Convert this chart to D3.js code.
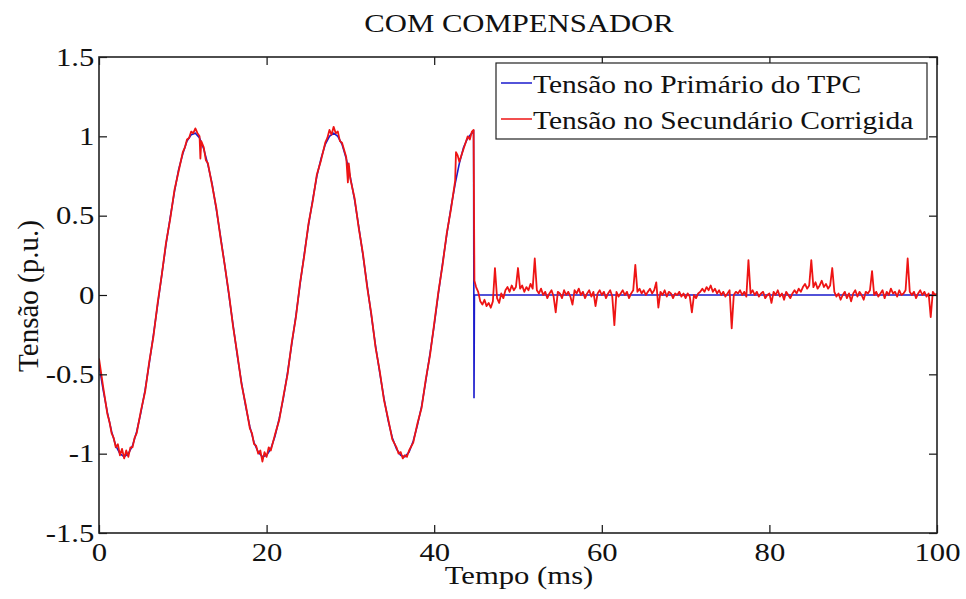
<!DOCTYPE html>
<html>
<head>
<meta charset="utf-8">
<script src="https://d3js.org/d3.v7.min.js"></script>
<style>
  body { margin: 0; background: #fff; }
  svg text { font-family: "Liberation Serif", "Times New Roman", serif !important; fill: #111; }
</style>
</head>
<body>
<div id="chart"></div>
<script>
// tick values
var xTicks = [0, 20, 40, 60, 80, 100];
var yTicks = [-1.5, -1, -0.5, 0, 0.5, 1, 1.5];

// primary voltage [ms, p.u.]
var primario = [
  [0,-0.44],[0.5,-0.60],[1,-0.74],[1.5,-0.86],[2,-0.95],[2.5,-1.00],[3,-1.02],[3.5,-1.00],[4,-0.95],[4.5,-0.86],
  [5,-0.74],[5.5,-0.60],[6,-0.43],[6.5,-0.25],[7,-0.06],[7.5,0.13],[8,0.32],[8.5,0.49],[9,0.65],[9.5,0.79],
  [10,0.89],[10.5,0.97],[11,1.01],[11.5,1.02],[12,0.99],[12.5,0.92],[13,0.82],[13.5,0.70],[14,0.54],[14.5,0.37],
  [15,0.19],[15.5,0.00],[16,-0.19],[16.5,-0.38],[17,-0.55],[17.5,-0.70],[18,-0.83],[18.5,-0.93],[19,-0.99],[19.5,-1.02],
  [20,-1.01],[20.5,-0.97],[21,-0.89],[21.5,-0.78],[22,-0.65],[22.5,-0.49],[23,-0.31],[23.5,-0.13],[24,0.07],[24.5,0.26],
  [25,0.44],[25.5,0.60],[26,0.75],[26.5,0.86],[27,0.95],[27.5,1.00],[28,1.02],[28.5,1.00],[29,0.95],[29.5,0.86],
  [30,0.74],[30.5,0.60],[31,0.43],[31.5,0.25],[32,0.06],[32.5,-0.13],[33,-0.32],[33.5,-0.49],[34,-0.65],[34.5,-0.79],
  [35,-0.90],[35.5,-0.97],[36,-1.01],[36.5,-1.02],[37,-0.99],[37.5,-0.92],[38,-0.82],[38.5,-0.70],[39,-0.54],[39.5,-0.37],
  [40,-0.19],[40.5,0.01],[41,0.20],[41.5,0.38],[42,0.55],[42.5,0.70],[43,0.83],[43.5,0.93],[44,0.99],[44.5,1.02],
  [44.7,1.03],[44.75,-0.65],[44.8,0.00],[100,0.00]
];

// corrected secondary voltage, sine part [ms, p.u.]
var secundario = [
  [0,-0.40],[0.5,-0.58],[1,-0.75],[1.25,-0.80],[1.5,-0.87],[1.75,-0.90],[2,-0.96],[2.25,-0.94],[2.5,-1.01],[2.75,-0.97],
  [3,-1.03],[3.25,-0.98],[3.5,-1.02],[3.75,-0.96],[4,-0.96],[4.25,-0.90],[4.5,-0.87],[5,-0.73],[5.5,-0.61],[6,-0.42],
  [6.5,-0.26],[7,-0.05],[7.5,0.13],[8,0.33],[8.5,0.48],[9,0.66],[9.5,0.78],[10,0.90],[10.25,0.93],[10.5,0.98],
  [10.75,0.99],[11,1.03],[11.25,1.02],[11.5,1.05],[11.75,1.02],[12,1.00],[12.1,0.86],[12.2,0.97],[12.5,0.93],[12.75,0.85],
  [13,0.83],[13.5,0.69],[14,0.55],[14.5,0.36],[15,0.19],[15.5,0.01],[16,-0.20],[16.5,-0.37],[17,-0.56],[17.5,-0.69],
  [18,-0.84],[18.25,-0.87],[18.5,-0.94],[18.75,-0.95],[19,-1.00],[19.25,-0.98],[19.5,-1.05],[19.75,-0.99],[20,-1.02],[20.25,-0.96],
  [20.5,-0.98],[21,-0.88],[21.5,-0.79],[22,-0.64],[22.5,-0.50],[23,-0.30],[23.5,-0.14],[24,0.08],[24.5,0.25],[25,0.45],
  [25.5,0.59],[26,0.76],[26.5,0.85],[27,0.96],[27.25,0.99],[27.5,1.04],[27.75,1.01],[28,1.06],[28.25,1.02],[28.5,1.03],
  [28.75,0.97],[29,0.96],[29.5,0.87],[29.7,0.71],[29.8,0.83],[30,0.73],[30.5,0.61],[31,0.42],[31.5,0.26],[32,0.05],
  [32.5,-0.12],[33,-0.33],[33.5,-0.48],[34,-0.66],[34.5,-0.78],[35,-0.91],[35.5,-0.96],[35.75,-1.00],[36,-0.99],[36.25,-1.03],
  [36.5,-1.01],[36.75,-1.02],[37,-0.98],[37.5,-0.93],[38,-0.81],[38.5,-0.71],[39,-0.53],[39.5,-0.38],[40,-0.18],[40.5,0.02],
  [41,0.19],[41.5,0.39],[42,0.54],[42.5,0.72],[42.6,0.90],[42.8,0.88],[43,0.84],[43.5,0.92],[44,1.00],[44.25,0.98],
  [44.5,1.03],[44.7,1.04],[44.8,0.09]
];

// corrected secondary after the fault, sampled every 0.25 ms from 45 ms
var ruidoInicio = 45, ruidoPasso = 0.25;
var ruido = [
  0.05,0.02,-0.04,-0.06, -0.03,-0.07,-0.05,-0.08, -0.04,0.17,-0.02,-0.05, 0.01,-0.02,0.03,0.05,
  0.02,0.06,0.03,0.05, 0.17,0.04,0.06,0.02, 0.05,0.03,0.07,0.04, 0.23,0.03,0.01,0.04,
  0.00,0.02,-0.02,0.01, 0.03,-0.01,-0.11,0.02, 0.01,-0.02,0.03,0.00, 0.02,-0.01,-0.06,0.03,
  0.01,0.04,0.00,0.02, -0.02,0.01,0.03,-0.01, 0.02,-0.07,0.01,0.03, 0.00,0.02,-0.02,0.01,
  0.03,-0.01,-0.19,0.02, -0.01,0.01,0.03,0.00, 0.02,-0.02,0.01,0.03, 0.19,0.02,0.04,0.01,
  0.03,0.00,0.02,0.04, 0.01,0.03,0.08,-0.08, 0.02,0.00,0.03,-0.01, 0.02,0.01,-0.02,0.01,
  0.00,0.02,-0.01,0.01, -0.02,0.01,-0.01,-0.11, 0.00,-0.02,0.01,0.02, 0.04,0.02,0.05,0.03,
  0.06,0.02,0.04,0.01, 0.03,0.00,0.02,-0.01, 0.01,0.03,-0.21,0.00, 0.02,0.01,0.03,0.00,
  0.02,-0.01,0.22,0.01, 0.03,0.00,0.02,-0.01, 0.01,0.02,-0.02,0.00, 0.01,-0.05,0.02,0.00,
  0.03,-0.01,0.01,-0.03, 0.02,0.00,-0.02,0.01, 0.03,0.01,0.04,0.02, 0.05,0.07,0.04,0.06,
  0.22,0.05,0.08,0.04, 0.06,0.09,0.05,0.07, 0.04,0.06,0.17,0.02, -0.01,0.01,-0.03,0.00,
  0.02,-0.02,0.01,-0.04, 0.01,0.03,-0.01,0.02, 0.00,-0.03,0.02,0.01, 0.03,0.15,0.00,0.02,
  -0.01,0.01,0.03,-0.02, 0.02,0.00,0.04,0.01, 0.02,-0.01,0.03,0.00, 0.01,0.03,0.23,0.02,
  0.00,0.02,-0.02,0.01, 0.03,0.00,0.02,-0.01, 0.01,-0.14,0.02,0.00, 0.01
];

var legendLabels = ["Tensão no Primário do TPC", "Tensão no Secundário Corrigida"];
var seriesColors = ["#1a1acc", "#ee1414"];

var W = 966, H = 599;
var margin = { top: 57, right: 29, bottom: 66, left: 99 };
var width = W - margin.left - margin.right,
  height = H - margin.top - margin.bottom;
var stretch = 1.18; // text in the picture is a bit wide
var serif = "Liberation Serif, Times New Roman, serif";

var svg = d3.select("#chart").append("svg")
  .attr("width", W)
  .attr("height", H);

var x = d3.scaleLinear().domain([0, 100]).range([0, width]);
var y = d3.scaleLinear().domain([-1.5, 1.5]).range([height, 0]);

var g = svg.append("g")
  .attr("transform", "translate(" + margin.left + "," + margin.top + ")");

g.append("clipPath").attr("id", "clip")
  .append("rect").attr("width", width).attr("height", height);

var line = d3.line()
  .x(function(d) { return x(d[0]); })
  .y(function(d) { return y(d[1]); });

var redData = secundario.concat(ruido.map(function(v, i) {
  return [ruidoInicio + i * ruidoPasso, v];
}));

var plot = g.append("g").attr("clip-path", "url(#clip)");
plot.append("path")
  .datum(primario)
  .attr("d", line)
  .attr("fill", "none")
  .attr("stroke", seriesColors[0])
  .attr("stroke-width", 1.6);
plot.append("path")
  .datum(redData)
  .attr("d", line)
  .attr("fill", "none")
  .attr("stroke", seriesColors[1])
  .attr("stroke-width", 1.8)
  .attr("stroke-linejoin", "round");

// axes (ticks point inward, on all four sides)
function styleAxis(sel) {
  sel.attr("font-family", serif);
  sel.select(".domain").remove();
  sel.selectAll(".tick line").attr("stroke", "#111").attr("stroke-width", 1.2);
  sel.selectAll(".tick text")
    .attr("font-size", 26)
    .attr("fill", "#111")
    .attr("transform", "scale(" + stretch + ",1)");
}

g.append("g")
  .attr("transform", "translate(0," + height + ")")
  .call(d3.axisBottom(x).tickValues(xTicks).tickSize(-8).tickPadding(10).tickFormat(d3.format("d")))
  .call(styleAxis);
g.append("g")
  .call(d3.axisLeft(y).tickValues(yTicks).tickSize(-8).tickPadding(4).tickFormat(function(d) { return String(d); }))
  .call(styleAxis);
g.append("g")
  .call(d3.axisTop(x).tickValues(xTicks).tickSize(-8).tickFormat(""))
  .call(styleAxis);
g.append("g")
  .attr("transform", "translate(" + width + ",0)")
  .call(d3.axisRight(y).tickValues(yTicks).tickSize(-8).tickFormat(""))
  .call(styleAxis);

g.append("rect")
  .attr("width", width)
  .attr("height", height)
  .attr("fill", "none")
  .attr("stroke", "#222")
  .attr("stroke-width", 1.6);

// titles
svg.append("text")
  .attr("transform", "translate(519,32) scale(" + stretch + ",1)")
  .attr("text-anchor", "middle")
  .attr("font-family", serif)
  .attr("font-size", 26)
  .text("COM COMPENSADOR");

svg.append("text")
  .attr("transform", "translate(519,584) scale(" + stretch + ",1)")
  .attr("text-anchor", "middle")
  .attr("font-family", serif)
  .attr("font-size", 26)
  .text("Tempo (ms)");

svg.append("text")
  .attr("transform", "translate(38,296) rotate(-90)")
  .attr("text-anchor", "middle")
  .attr("font-family", serif)
  .attr("font-size", 29)
  .text("Tensão (p.u.)");

// legend
var legend = svg.append("g").attr("transform", "translate(496,63)");
legend.append("rect")
  .attr("width", 431)
  .attr("height", 76)
  .attr("fill", "#fff")
  .attr("stroke", "#222")
  .attr("stroke-width", 1.2);

var rows = legend.selectAll("g.row")
  .data(legendLabels)
  .enter()
  .append("g")
  .attr("class", "row")
  .attr("transform", function(d, i) { return "translate(0," + (20 + i * 36) + ")"; });

rows.append("line")
  .attr("x1", 5).attr("x2", 36)
  .attr("stroke", function(d, i) { return seriesColors[i]; })
  .attr("stroke-width", 1.5);

rows.append("text")
  .attr("transform", "translate(37,10) scale(" + stretch + ",1)")
  .attr("font-family", serif)
  .attr("font-size", 25)
  .text(function(d) { return d; });
</script>
</body>
</html>
